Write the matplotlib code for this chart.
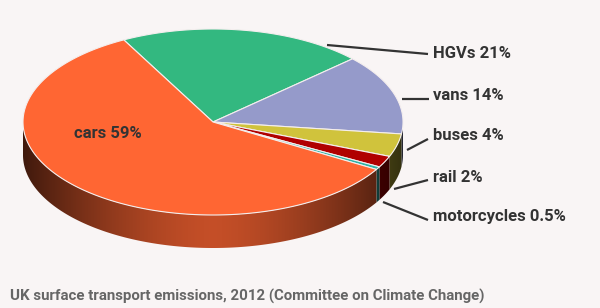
import numpy as np
import matplotlib.pyplot as plt
from matplotlib.patches import Polygon

# data
labels = ['HGVs', 'vans', 'buses', 'rail', 'motorcycles', 'cars']
values = [21, 14, 4, 2, 0.5, 59]
pct_text = ['21%', '14%', '4%', '2%', '0.5%', '59%']
colors = ['#33b880', '#959aca', '#d0c33c', '#b00000', '#2fb3a6', '#ff6633']

caption = 'UK surface transport emissions, 2012 (Committee on Climate Change)'

# layout (pixel space)
cx, cy = 213, 122
rx, ry = 190, 93
depth = 33
start = 118.0
bg = '#f9f5f5'
txt = '#333333'

plt.rcParams['font.family'] = ['Roboto', 'DejaVu Sans']

fig = plt.figure(figsize=(6, 3.08), dpi=100, facecolor=bg)
ax = fig.add_axes([0, 0, 1, 1])
ax.set_xlim(0, 600)
ax.set_ylim(308, 0)
ax.axis('off')
ax.set_facecolor(bg)

vals = np.array(values, dtype=float)
spans = vals / vals.sum() * 360.0
ends = start - np.cumsum(spans)
starts = ends + spans


def pt(th, dz=0.0):
    t = np.radians(th)
    return cx + rx * np.cos(t), cy - ry * np.sin(t) + dz


def rgb(hexcol):
    return np.array([int(hexcol[i:i + 2], 16) for i in (1, 3, 5)]) / 255.0


# side walls (front half only), horizontal gradient clipped to each wall
gx = np.linspace(-1, 1, 400)
s = 0.77 - 0.52 * np.abs(gx) ** 1.5
for a0, a1, col in zip(ends, starts, colors):
    lo, hi = max(a0, -180.0), min(a1, 0.0)
    if hi <= lo:
        continue
    th = np.linspace(lo, hi, max(3, int((hi - lo) * 2)))
    xt, yt = pt(th)
    xb, yb = pt(th[::-1], depth)
    verts = list(zip(xt, yt)) + list(zip(xb, yb))
    wall = Polygon(verts, closed=True, facecolor='none', edgecolor='none',
                   transform=ax.transData)
    ax.add_patch(wall)
    img = np.clip(s[None, :, None] * rgb(col)[None, None, :], 0, 1)
    im = ax.imshow(img, extent=(cx - rx, cx + rx, cy + ry + depth, cy - ry),
                   aspect='auto', interpolation='bilinear', zorder=1)
    im.set_clip_path(wall)

ax.set_xlim(0, 600)
ax.set_ylim(308, 0)

# top face
for a0, a1, col in zip(ends, starts, colors):
    th = np.linspace(a0, a1, max(3, int(abs(a1 - a0) * 2)))
    xs, ys = pt(th)
    verts = [(cx, cy)] + list(zip(xs, ys))
    ax.add_patch(Polygon(verts, closed=True, facecolor=col,
                         edgecolor='#f4eeee', linewidth=0.8, zorder=2))

# labels with leader lines
lab_x = 433
lab_y = [54, 95, 136, 177, 217]
lead_from = [(327, 45), (402, 99), (407, 150), (394, 189), (383, 202)]
lead_to = [(428, 54), (429, 99), (428, 139), (428, 180), (428, 220)]
for i in range(5):
    (x0, y0), (x1, y1) = lead_from[i], lead_to[i]
    ax.plot([x0, x1], [y0, y1], color=txt, lw=1.6, zorder=3,
            solid_capstyle='butt')
    ax.text(lab_x, lab_y[i], labels[i] + ' ' + pct_text[i], color=txt,
            fontsize=12, fontweight='bold', va='center', ha='left', zorder=4)

ax.text(108, 133, labels[5] + ' ' + pct_text[5], color=txt, fontsize=12,
        fontweight='bold', va='center', ha='center', zorder=4)

ax.text(10, 296, caption, color='#666666', fontsize=10.8, fontweight='bold',
        va='center', ha='left')

fig.savefig('out.png', dpi=100, facecolor=bg)
